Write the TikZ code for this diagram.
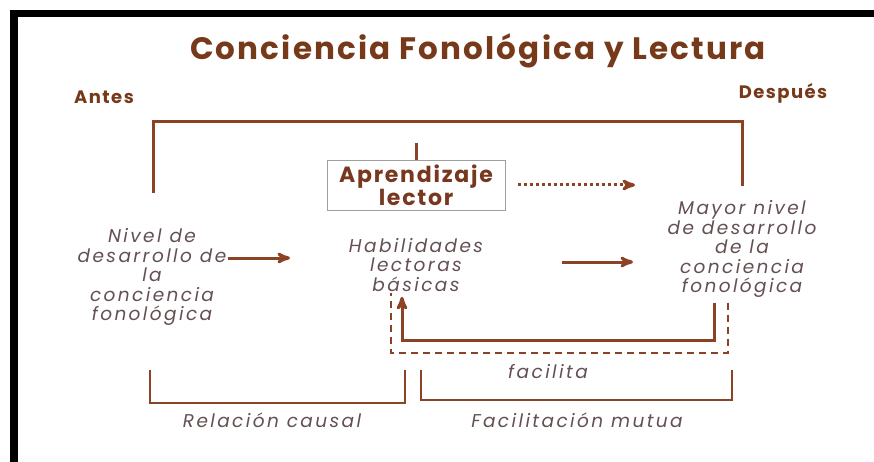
\documentclass[tikz,border=0pt]{standalone}
\usepackage{fontspec}
\setmainfont{Poppins}
\usetikzlibrary{arrows,positioning}
\definecolor{cafe}{RGB}{140,66,36}
\definecolor{titulo}{RGB}{118,58,26}
\definecolor{gris}{RGB}{100,80,82}
\tikzset{
    encabezado/.style={
           text=titulo,
           font=\bfseries\fontsize{31}{34}\selectfont\addfontfeatures{LetterSpace=7},
           },
    etapa/.style={
           text=titulo,
           font=\bfseries\fontsize{18}{20}\selectfont\addfontfeatures{LetterSpace=8},
           },
    concepto/.style={
           text=gris,
           font=\itshape\fontsize{18.5}{19.5}\selectfont\addfontfeatures{LetterSpace=13},
           align=center,
           inner sep=1pt,
           },
    caja/.style={
           rectangle,
           draw=gray!75,
           line width=0.8pt,
           text=cafe!85!black,
           font=\bfseries\fontsize{22}{21}\selectfont\addfontfeatures{LetterSpace=8},
           align=center,
           minimum width=178pt,
           minimum height=50pt,
           },
    linea/.style={draw=cafe,line width=3pt},
    llave/.style={draw=cafe,line width=1.6pt},
    flecha/.style={draw=cafe,line width=3pt,->,>=stealth'},
}

\begin{document}
\begin{tikzpicture}[x=1pt,y=-1pt]
\useasboundingbox[fill=white] (0,0) rectangle (874,462);
\fill[black] (10,10) rectangle (874,17);
\fill[black] (10,10) rectangle (18,462);
\node[encabezado](titulo) at (478,51){Conciencia Fonológica y Lectura};
\node[etapa](antes) at (104,97){Antes};
\node[etapa](despues) at (783,93){Después};
\node[caja](aprendizaje) at (416,185){Aprendizaje\\lector};
\node[concepto](nivel) at (152,277){Nivel de\\desarrollo de\\la\\conciencia\\fonológica};
\node[concepto](habilidades) at (416,265){Habilidades\\lectoras\\básicas};
\node[concepto](mayor) at (742,249){Mayor nivel\\de desarrollo\\de la\\conciencia\\fonológica};
\node[concepto](facilita) at (548,372){facilita};
% llaves inferiores
\coordinate (causalA) at (150,370);
\coordinate (causalB) at (405,370);
\coordinate (causalMedio) at (272,403);
\coordinate (mutuaA) at (421,370);
\coordinate (mutuaB) at (732,370);
\coordinate (mutuaMedio) at (577,400);
\draw[llave] (causalA) |- (causalMedio) -| (causalB);
\draw[llave] (mutuaA) |- (mutuaMedio) -| (mutuaB);
\node[concepto,below=9pt of causalMedio](causal){Relación causal};
\node[concepto,below=12pt of mutuaMedio](mutua){Facilitación mutua};
% llave superior
\coordinate (antesPie) at (153,193);
\coordinate (despuesPie) at (742,186);
\coordinate (aprendizajeCima) at (416,143);
\draw[linea] (antesPie) -- (153,122) -- (742,122) -- (despuesPie);
\draw[linea] (aprendizajeCima) -- (aprendizaje);
% flechas
\coordinate (puntaPunteada) at (635,185);
\coordinate (puntaNivel) at (290,258);
\coordinate (salidaHab) at (562,262);
\coordinate (puntaHab) at (633,262);
\draw[flecha,dash pattern=on 3pt off 3pt,shorten <=13pt] (aprendizaje.east) -- (puntaPunteada);
\draw[flecha] ([yshift=19pt]nivel.east) -- (puntaNivel);
\draw[flecha] (salidaHab) -- (puntaHab);
\draw[flecha,shorten >=4pt,shorten <=4pt] ([xshift=-28pt]mayor.south) -- ++(0,42) -| ([xshift=-14pt]habilidades.south);
\draw[cafe,line width=1.8pt,dash pattern=on 7pt off 5pt,shorten <=4pt] ([xshift=-14pt]mayor.south) -- ++(0,54) -| ([xshift=-25pt]habilidades.south);
\end{tikzpicture}
\end{document}
